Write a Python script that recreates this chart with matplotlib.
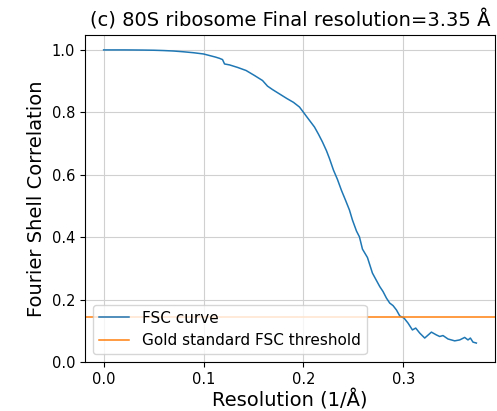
import numpy as np
import matplotlib
matplotlib.use("Agg")
import matplotlib.pyplot as plt
from matplotlib.ticker import MultipleLocator

# FSC curve
resolution = [0.0, 0.01, 0.02, 0.03, 0.04, 0.05, 0.06, 0.07, 0.08, 0.09,
              0.1, 0.106, 0.112, 0.116, 0.119, 0.121, 0.126, 0.134, 0.1426, 0.151,
              0.159, 0.164, 0.169, 0.176, 0.183, 0.19, 0.196, 0.2, 0.203, 0.207,
              0.211, 0.215, 0.219, 0.223, 0.226, 0.23, 0.234, 0.238, 0.242, 0.246,
              0.249, 0.253, 0.256, 0.259, 0.264, 0.269, 0.2763, 0.2796, 0.283, 0.2863,
              0.2896, 0.293, 0.2963, 0.3006, 0.3046, 0.309, 0.3123, 0.3163, 0.3213, 0.328,
              0.333, 0.3363, 0.3396, 0.3446, 0.3513, 0.3563, 0.3613, 0.3646, 0.367, 0.3696,
              0.373]
fsc = [1.0, 1.0, 1.0, 0.9998, 0.9995, 0.999, 0.998, 0.9965, 0.994, 0.991,
       0.987, 0.982, 0.977, 0.973, 0.969, 0.955, 0.952, 0.944, 0.934, 0.918,
       0.902, 0.884, 0.873, 0.859, 0.845, 0.832, 0.817, 0.800, 0.787, 0.770,
       0.753, 0.730, 0.705, 0.677, 0.652, 0.615, 0.585, 0.550, 0.519, 0.487,
       0.455, 0.420, 0.401, 0.362, 0.335, 0.285, 0.242, 0.226, 0.205, 0.189,
       0.181, 0.167, 0.148, 0.141, 0.125, 0.103, 0.109, 0.093, 0.077, 0.096,
       0.087, 0.082, 0.085, 0.074, 0.068, 0.071, 0.079, 0.071, 0.077, 0.064,
       0.061]

# Gold standard threshold
threshold = 0.143
final_res = 3.35

fig = plt.figure(figsize=(4.97, 4.11), dpi=100)
ax = fig.add_axes([0.171, 0.119, 0.825, 0.796])

ax.plot(resolution, fsc, label="FSC curve", color="C0", linewidth=1.1)
ax.axhline(threshold, color="C1", label="Gold standard FSC threshold", linewidth=1.1)

ax.set_ylim(0, 1.048)
ax.xaxis.set_major_locator(MultipleLocator(0.1))
ax.set_xlabel("Resolution (1/Å)", fontsize=14, labelpad=2)
ax.set_ylabel("Fourier Shell Correlation", fontsize=14)
ax.set_title(f"(c) 80S ribosome Final resolution={final_res} Å", fontsize=14)
ax.tick_params(labelsize=10.5)
ax.grid(True, color="#d0d0d0")
ax.legend(loc="lower left", fontsize=11)

plt.savefig("out.png", dpi=100)
